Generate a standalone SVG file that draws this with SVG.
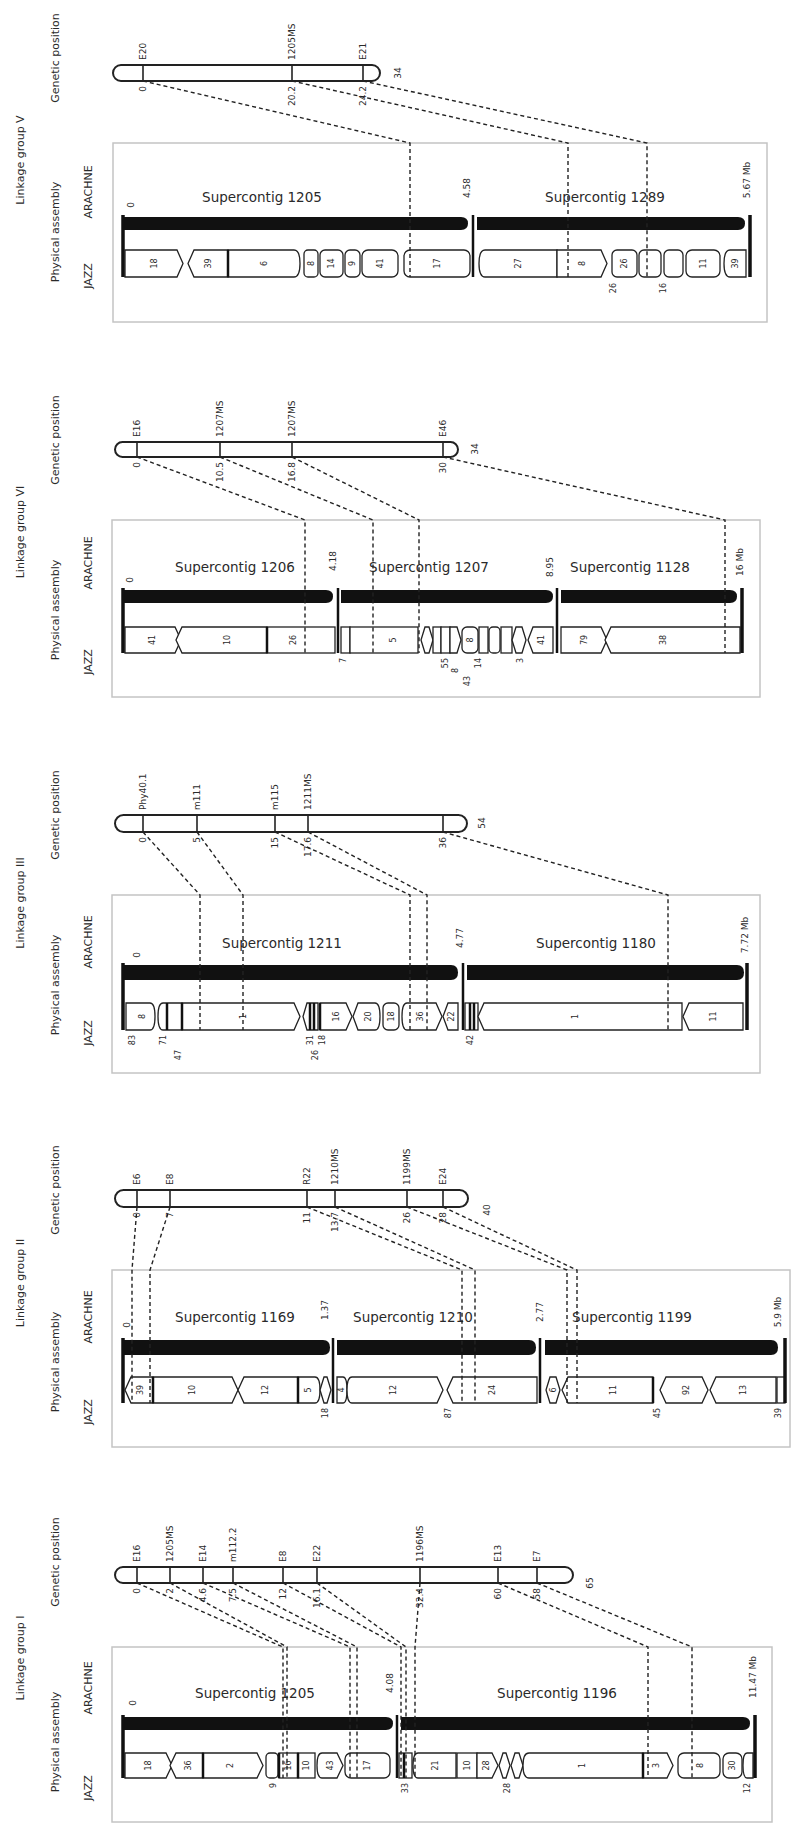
<svg xmlns="http://www.w3.org/2000/svg" width="795" height="1832" viewBox="0 0 795 1832">
<style>
text{font-family:'DejaVu Sans',Verdana,sans-serif;fill:#2a2a2a}
.sd{font-size:11px;text-anchor:middle;dominant-baseline:central}
.sc{font-size:13.5px;text-anchor:middle}
.mk{font-size:9px;text-anchor:start;dominant-baseline:central}
.cm{font-size:9px;text-anchor:end;dominant-baseline:central}
.ps{font-size:9px;text-anchor:middle;dominant-baseline:central}
.sl{font-size:8px;text-anchor:middle;dominant-baseline:central}
.bl{font-size:8px;text-anchor:end;dominant-baseline:central}
.box{fill:none;stroke:#c4c4c4;stroke-width:1.5}
.chr{fill:#fff;stroke:#222;stroke-width:2}
.tk{stroke:#222;stroke-width:1.6}
.ab{fill:#111}
.bd{stroke:#111;stroke-width:2.5}
.be{stroke:#111;stroke-width:3.5}
.sg{fill:#fff;stroke:#222;stroke-width:1.3}
.cn{fill:none;stroke:#222;stroke-width:1.4;stroke-dasharray:4 3}
</style>
<rect width="795" height="1832" fill="#fff"/>

<!-- ================= PANEL V ================= -->
<g id="panel-V">
<text class="sd" transform="translate(20,160) rotate(-90)">Linkage group V</text>
<text class="sd" transform="translate(55,58) rotate(-90)">Genetic position</text>
<text class="sd" transform="translate(55,232) rotate(-90)">Physical assembly</text>
<text class="sd" transform="translate(88,192) rotate(-90)">ARACHNE</text>
<text class="sd" transform="translate(88,276) rotate(-90)">JAZZ</text>
<g id="chrV">
<rect class="chr" x="113" y="65" width="267" height="16" rx="8"/>
<line class="tk" x1="143" y1="65" x2="143" y2="81"/><line class="tk" x1="292" y1="65" x2="292" y2="81"/><line class="tk" x1="363" y1="65" x2="363" y2="81"/>
<text class="mk" transform="translate(143,60) rotate(-90)">E20</text>
<text class="mk" transform="translate(292,60) rotate(-90)">1205MS</text>
<text class="mk" transform="translate(363,60) rotate(-90)">E21</text>
<text class="cm" transform="translate(143,86) rotate(-90)">0</text>
<text class="cm" transform="translate(292,86) rotate(-90)">20.2</text>
<text class="cm" transform="translate(363,86) rotate(-90)">24.2</text>
<text class="ps" transform="translate(398,73) rotate(-90)">34</text>
</g>
<g id="asmV">
<rect class="box" x="113" y="143" width="654" height="179"/>
<text class="sc" x="262" y="202">Supercontig 1205</text>
<text class="sc" x="605" y="202">Supercontig 1289</text>
<text class="ps" transform="translate(131,205) rotate(-90)">0</text>
<text class="ps" transform="translate(467,188) rotate(-90)">4.58</text>
<text class="ps" transform="translate(747,180) rotate(-90)">5.67 Mb</text>
<path class="ab" d="M123 217H461Q468 217 468 223.5Q468 230 461 230H123Z"/>
<path class="ab" d="M477 217H738Q745 217 745 223.5Q745 230 738 230H477Z"/>
<path class="sg" d="M125 250H177L183 263.5L177 277H125Z"/>
<path class="sg" d="M194 250H228V277H194L188 263.5Z"/>
<path class="sg" d="M228 250H294Q300 250 300 263.5Q300 277 294 277H228Z"/>
<rect class="sg" x="304" y="250" width="14" height="27" rx="4"/>
<rect class="sg" x="320" y="250" width="23" height="27" rx="5"/>
<rect class="sg" x="345" y="250" width="15" height="27" rx="5"/>
<rect class="sg" x="362" y="250" width="36" height="27" rx="6"/>
<rect class="sg" x="404" y="250" width="66" height="27" rx="6"/>
<path class="sg" d="M485 250H557V277H485Q479 277 479 263.5Q479 250 485 250Z"/>
<path class="sg" d="M557 250H601L607 263.5L601 277H557Z"/>
<rect class="sg" x="612" y="250" width="25" height="27" rx="5"/>
<rect class="sg" x="639" y="250" width="22" height="27" rx="5"/>
<rect class="sg" x="664" y="250" width="19" height="27" rx="5"/>
<rect class="sg" x="686" y="250" width="34" height="27" rx="6"/>
<path class="sg" d="M730 250H746V277H730Q724 277 724 263.5Q724 250 730 250Z"/>
<line class="be" x1="123" y1="215" x2="123" y2="277"/>
<line class="bd" x1="473" y1="215" x2="473" y2="277"/>
<line class="be" x1="750" y1="215" x2="750" y2="277"/>
<line class="bd" x1="228" y1="250" x2="228" y2="277"/>
<text class="sl" transform="translate(154,263.5) rotate(-90)">18</text>
<text class="sl" transform="translate(208,263.5) rotate(-90)">39</text>
<text class="sl" transform="translate(264,263.5) rotate(-90)">6</text>
<text class="sl" transform="translate(311,263.5) rotate(-90)">8</text>
<text class="sl" transform="translate(331,263.5) rotate(-90)">14</text>
<text class="sl" transform="translate(352,263.5) rotate(-90)">9</text>
<text class="sl" transform="translate(380,263.5) rotate(-90)">41</text>
<text class="sl" transform="translate(437,263.5) rotate(-90)">17</text>
<text class="sl" transform="translate(518,263.5) rotate(-90)">27</text>
<text class="sl" transform="translate(582,263.5) rotate(-90)">8</text>
<text class="sl" transform="translate(624,263.5) rotate(-90)">26</text>
<text class="sl" transform="translate(703,263.5) rotate(-90)">11</text>
<text class="sl" transform="translate(735,263.5) rotate(-90)">39</text>
<text class="bl" transform="translate(613,283) rotate(-90)">26</text>
<text class="bl" transform="translate(663,283) rotate(-90)">16</text>
</g>
</g>

<!-- ================= PANEL VI ================= -->
<g id="panel-VI">
<text class="sd" transform="translate(20,532) rotate(-90)">Linkage group VI</text>
<text class="sd" transform="translate(55,440) rotate(-90)">Genetic position</text>
<text class="sd" transform="translate(55,610) rotate(-90)">Physical assembly</text>
<text class="sd" transform="translate(88,563) rotate(-90)">ARACHNE</text>
<text class="sd" transform="translate(88,662) rotate(-90)">JAZZ</text>
<g id="chrVI">
<rect class="chr" x="115" y="442" width="343" height="15" rx="7.5"/>
<line class="tk" x1="137" y1="442" x2="137" y2="457"/><line class="tk" x1="220" y1="442" x2="220" y2="457"/><line class="tk" x1="292" y1="442" x2="292" y2="457"/><line class="tk" x1="443" y1="442" x2="443" y2="457"/>
<text class="mk" transform="translate(137,437) rotate(-90)">E16</text>
<text class="mk" transform="translate(220,437) rotate(-90)">1207MS</text>
<text class="mk" transform="translate(292,437) rotate(-90)">1207MS</text>
<text class="mk" transform="translate(443,437) rotate(-90)">E46</text>
<text class="cm" transform="translate(137,462) rotate(-90)">0</text>
<text class="cm" transform="translate(220,462) rotate(-90)">10.5</text>
<text class="cm" transform="translate(292,462) rotate(-90)">16.8</text>
<text class="cm" transform="translate(443,462) rotate(-90)">30</text>
<text class="ps" transform="translate(475,449) rotate(-90)">34</text>
</g>
<g id="asmVI">
<rect class="box" x="112" y="520" width="648" height="177"/>
<text class="sc" x="235" y="572">Supercontig 1206</text>
<text class="sc" x="429" y="572">Supercontig 1207</text>
<text class="sc" x="630" y="572">Supercontig 1128</text>
<text class="ps" transform="translate(130,580) rotate(-90)">0</text>
<text class="ps" transform="translate(333,561) rotate(-90)">4.18</text>
<text class="ps" transform="translate(550,567) rotate(-90)">8.95</text>
<text class="ps" transform="translate(740,562) rotate(-90)">16 Mb</text>
<path class="ab" d="M123 590H326Q333 590 333 596.5Q333 603 326 603H123Z"/>
<path class="ab" d="M341 590H546Q553 590 553 596.5Q553 603 546 603H341Z"/>
<path class="ab" d="M561 590H730Q737 590 737 596.5Q737 603 730 603H561Z"/>
<path class="sg" d="M125 627H175L181 640L175 653H125Z"/>
<path class="sg" d="M182 627H267V653H182L176 640Z"/>
<rect class="sg" x="267" y="627" width="68" height="26"/>
<rect class="sg" x="341" y="627" width="9" height="26"/>
<rect class="sg" x="350" y="627" width="68" height="26"/>
<path class="sg" d="M425 627H429L433 640L429 653H425L421 640Z"/>
<rect class="sg" x="433" y="627" width="8" height="26"/>
<rect class="sg" x="441" y="627" width="9" height="26"/>
<path class="sg" d="M450 627H457L461 640L457 653H450Z"/>
<rect class="sg" x="462" y="627" width="16" height="26" rx="5"/>
<rect class="sg" x="479" y="627" width="9" height="26"/>
<rect class="sg" x="489" y="627" width="11" height="26" rx="4"/>
<rect class="sg" x="501" y="627" width="11" height="26"/>
<path class="sg" d="M516 627H522L526 640L522 653H516L512 640Z"/>
<path class="sg" d="M533 627H553V653H533L528 640Z"/>
<path class="sg" d="M561 627H601L607 640L601 653H561Z"/>
<path class="sg" d="M611 627H740V653H611L605 640Z"/>
<line class="be" x1="123" y1="588" x2="123" y2="653"/>
<line class="bd" x1="338" y1="588" x2="338" y2="653"/>
<line class="bd" x1="557" y1="588" x2="557" y2="653"/>
<line class="be" x1="742" y1="588" x2="742" y2="653"/>
<line class="bd" x1="267" y1="627" x2="267" y2="653"/>
<text class="sl" transform="translate(152,640) rotate(-90)">41</text>
<text class="sl" transform="translate(227,640) rotate(-90)">10</text>
<text class="sl" transform="translate(293,640) rotate(-90)">26</text>
<text class="sl" transform="translate(393,640) rotate(-90)">5</text>
<text class="sl" transform="translate(470,640) rotate(-90)">8</text>
<text class="sl" transform="translate(541,640) rotate(-90)">41</text>
<text class="sl" transform="translate(584,640) rotate(-90)">79</text>
<text class="sl" transform="translate(663,640) rotate(-90)">38</text>
<text class="bl" transform="translate(343,658) rotate(-90)">7</text>
<text class="bl" transform="translate(445,658) rotate(-90)">55</text>
<text class="bl" transform="translate(455,668) rotate(-90)">8</text>
<text class="bl" transform="translate(467,676) rotate(-90)">43</text>
<text class="bl" transform="translate(478,658) rotate(-90)">14</text>
<text class="bl" transform="translate(520,658) rotate(-90)">3</text>
</g>
</g>

<!-- ================= PANEL III ================= -->
<g id="panel-III">
<text class="sd" transform="translate(20,903) rotate(-90)">Linkage group III</text>
<text class="sd" transform="translate(55,815) rotate(-90)">Genetic position</text>
<text class="sd" transform="translate(55,985) rotate(-90)">Physical assembly</text>
<text class="sd" transform="translate(88,942) rotate(-90)">ARACHNE</text>
<text class="sd" transform="translate(88,1033) rotate(-90)">JAZZ</text>
<g id="chrIII">
<rect class="chr" x="115" y="815" width="352" height="17" rx="8.5"/>
<line class="tk" x1="143" y1="815" x2="143" y2="832"/><line class="tk" x1="197" y1="815" x2="197" y2="832"/><line class="tk" x1="275" y1="815" x2="275" y2="832"/><line class="tk" x1="308" y1="815" x2="308" y2="832"/><line class="tk" x1="443" y1="815" x2="443" y2="832"/>
<text class="mk" transform="translate(143,810) rotate(-90)">Phy40.1</text>
<text class="mk" transform="translate(197,810) rotate(-90)">m111</text>
<text class="mk" transform="translate(275,810) rotate(-90)">m115</text>
<text class="mk" transform="translate(308,810) rotate(-90)">1211MS</text>
<text class="cm" transform="translate(143,837) rotate(-90)">0</text>
<text class="cm" transform="translate(197,837) rotate(-90)">5</text>
<text class="cm" transform="translate(275,837) rotate(-90)">15</text>
<text class="cm" transform="translate(308,837) rotate(-90)">17.6</text>
<text class="cm" transform="translate(443,837) rotate(-90)">36</text>
<text class="ps" transform="translate(482,823) rotate(-90)">54</text>
</g>
<g id="asmIII">
<rect class="box" x="112" y="895" width="648" height="178"/>
<text class="sc" x="282" y="948">Supercontig 1211</text>
<text class="sc" x="596" y="948">Supercontig 1180</text>
<text class="ps" transform="translate(137,955) rotate(-90)">0</text>
<text class="ps" transform="translate(460,938) rotate(-90)">4.77</text>
<text class="ps" transform="translate(745,935) rotate(-90)">7.72 Mb</text>
<path class="ab" d="M123 965H451Q458 965 458 972.5Q458 980 451 980H123Z"/>
<path class="ab" d="M467 965H737Q744 965 744 972.5Q744 980 737 980H467Z"/>
<path class="sg" d="M126 1003H150Q155 1003 155 1016.5Q155 1030 150 1030H126Z"/>
<path class="sg" d="M163 1003H182V1030H163Q158 1030 158 1016.5Q158 1003 163 1003Z"/>
<path class="sg" d="M182 1003H294L300 1016.5L294 1030H182Z"/>
<path class="sg" d="M307 1003H318V1030H307L303 1016.5Z"/>
<path class="sg" d="M320 1003H346L352 1016.5L346 1030H320Z"/>
<path class="sg" d="M358 1003H375Q380 1003 380 1016.5Q380 1030 375 1030H358L353 1016.5Z"/>
<rect class="sg" x="383" y="1003" width="16" height="27" rx="5"/>
<path class="sg" d="M407 1003H436L442 1016.5L436 1030H407Q402 1030 402 1016.5Q402 1003 407 1003Z"/>
<path class="sg" d="M448 1003H458V1030H448L443 1016.5Z"/>
<rect class="sg" x="465" y="1003" width="13" height="27"/>
<path class="sg" d="M484 1003H682V1030H484L478 1016.5Z"/>
<path class="sg" d="M689 1003H743V1030H689L683 1016.5Z"/>
<line class="be" x1="123" y1="963" x2="123" y2="1030"/>
<line class="bd" x1="463" y1="963" x2="463" y2="1030"/>
<line class="be" x1="747" y1="963" x2="747" y2="1030"/>
<line class="bd" x1="167" y1="1003" x2="167" y2="1030"/>
<line class="bd" x1="182" y1="1003" x2="182" y2="1030"/>
<line class="bd" x1="310" y1="1003" x2="310" y2="1030"/>
<line class="bd" x1="314" y1="1003" x2="314" y2="1030"/>
<line class="bd" x1="320" y1="1003" x2="320" y2="1030"/>
<line class="bd" x1="470" y1="1003" x2="470" y2="1030"/>
<line class="bd" x1="474" y1="1003" x2="474" y2="1030"/>
<text class="sl" transform="translate(142,1016.5) rotate(-90)">8</text>
<text class="sl" transform="translate(243,1016.5) rotate(-90)">1</text>
<text class="sl" transform="translate(336,1016.5) rotate(-90)">16</text>
<text class="sl" transform="translate(368,1016.5) rotate(-90)">20</text>
<text class="sl" transform="translate(391,1016.5) rotate(-90)">18</text>
<text class="sl" transform="translate(420,1016.5) rotate(-90)">36</text>
<text class="sl" transform="translate(451,1016.5) rotate(-90)">22</text>
<text class="sl" transform="translate(575,1016.5) rotate(-90)">1</text>
<text class="sl" transform="translate(713,1016.5) rotate(-90)">11</text>
<text class="bl" transform="translate(132,1035) rotate(-90)">83</text>
<text class="bl" transform="translate(163,1035) rotate(-90)">71</text>
<text class="bl" transform="translate(178,1050) rotate(-90)">47</text>
<text class="bl" transform="translate(310,1035) rotate(-90)">31</text>
<text class="bl" transform="translate(322,1035) rotate(-90)">18</text>
<text class="bl" transform="translate(315,1050) rotate(-90)">26</text>
<text class="bl" transform="translate(470,1035) rotate(-90)">42</text>
</g>
</g>

<!-- ================= PANEL II ================= -->
<g id="panel-II">
<text class="sd" transform="translate(20,1283) rotate(-90)">Linkage group II</text>
<text class="sd" transform="translate(55,1190) rotate(-90)">Genetic position</text>
<text class="sd" transform="translate(55,1362) rotate(-90)">Physical assembly</text>
<text class="sd" transform="translate(88,1317) rotate(-90)">ARACHNE</text>
<text class="sd" transform="translate(88,1412) rotate(-90)">JAZZ</text>
<g id="chrII">
<rect class="chr" x="115" y="1190" width="353" height="17" rx="8.5"/>
<line class="tk" x1="137" y1="1190" x2="137" y2="1207"/><line class="tk" x1="170" y1="1190" x2="170" y2="1207"/><line class="tk" x1="307" y1="1190" x2="307" y2="1207"/><line class="tk" x1="335" y1="1190" x2="335" y2="1207"/><line class="tk" x1="407" y1="1190" x2="407" y2="1207"/><line class="tk" x1="443" y1="1190" x2="443" y2="1207"/>
<text class="mk" transform="translate(137,1185) rotate(-90)">E6</text>
<text class="mk" transform="translate(170,1185) rotate(-90)">E8</text>
<text class="mk" transform="translate(307,1185) rotate(-90)">R22</text>
<text class="mk" transform="translate(335,1185) rotate(-90)">1210MS</text>
<text class="mk" transform="translate(407,1185) rotate(-90)">1199MS</text>
<text class="mk" transform="translate(443,1185) rotate(-90)">E24</text>
<text class="cm" transform="translate(137,1212) rotate(-90)">0</text>
<text class="cm" transform="translate(170,1212) rotate(-90)">7</text>
<text class="cm" transform="translate(307,1212) rotate(-90)">11</text>
<text class="cm" transform="translate(335,1212) rotate(-90)">13.7</text>
<text class="cm" transform="translate(407,1212) rotate(-90)">26</text>
<text class="cm" transform="translate(443,1212) rotate(-90)">28</text>
<text class="ps" transform="translate(487,1210) rotate(-90)">40</text>
</g>
<g id="asmII">
<rect class="box" x="112" y="1270" width="678" height="177"/>
<text class="sc" x="235" y="1322">Supercontig 1169</text>
<text class="sc" x="413" y="1322">Supercontig 1210</text>
<text class="sc" x="632" y="1322">Supercontig 1199</text>
<text class="ps" transform="translate(127,1325) rotate(-90)">0</text>
<text class="ps" transform="translate(325,1310) rotate(-90)">1.37</text>
<text class="ps" transform="translate(540,1312) rotate(-90)">2.77</text>
<text class="ps" transform="translate(778,1312) rotate(-90)">5.9 Mb</text>
<path class="ab" d="M123 1340H323Q330 1340 330 1347.5Q330 1355 323 1355H123Z"/>
<path class="ab" d="M337 1340H529Q536 1340 536 1347.5Q536 1355 529 1355H337Z"/>
<path class="ab" d="M545 1340H771Q778 1340 778 1347.5Q778 1355 771 1355H545Z"/>
<path class="sg" d="M131 1377H153V1403H131L125 1390Z"/>
<path class="sg" d="M153 1377H232L238 1390L232 1403H153Z"/>
<path class="sg" d="M244 1377H298V1403H244L238 1390Z"/>
<path class="sg" d="M298 1377H315Q320 1377 320 1390Q320 1403 315 1403H298Z"/>
<path class="sg" d="M324 1377H327L331 1390L327 1403H324L320 1390Z"/>
<path class="sg" d="M337 1377H343Q347 1377 347 1390Q347 1403 343 1403H337Z"/>
<path class="sg" d="M352 1377H437L443 1390L437 1403H352Q347 1403 347 1390Q347 1377 352 1377Z"/>
<path class="sg" d="M453 1377H537V1403H453L447 1390Z"/>
<path class="sg" d="M550 1377H556L560 1390L556 1403H550L546 1390Z"/>
<path class="sg" d="M568 1377H653V1403H568L562 1390Z"/>
<path class="sg" d="M666 1377H702L708 1390L702 1403H666L660 1390Z"/>
<path class="sg" d="M716 1377H776V1403H716L710 1390Z"/>
<rect class="sg" x="777" y="1377" width="8" height="26"/>
<line class="be" x1="123" y1="1338" x2="123" y2="1403"/>
<line class="bd" x1="333" y1="1338" x2="333" y2="1403"/>
<line class="bd" x1="540" y1="1338" x2="540" y2="1403"/>
<line class="be" x1="785" y1="1338" x2="785" y2="1403"/>
<line class="bd" x1="153" y1="1377" x2="153" y2="1403"/>
<line class="bd" x1="298" y1="1377" x2="298" y2="1403"/>
<line class="bd" x1="653" y1="1377" x2="653" y2="1403"/>
<text class="sl" transform="translate(140,1390) rotate(-90)">39</text>
<text class="sl" transform="translate(192,1390) rotate(-90)">10</text>
<text class="sl" transform="translate(265,1390) rotate(-90)">12</text>
<text class="sl" transform="translate(308,1390) rotate(-90)">5</text>
<text class="sl" transform="translate(341,1390) rotate(-90)">4</text>
<text class="sl" transform="translate(393,1390) rotate(-90)">12</text>
<text class="sl" transform="translate(492,1390) rotate(-90)">24</text>
<text class="sl" transform="translate(553,1390) rotate(-90)">6</text>
<text class="sl" transform="translate(613,1390) rotate(-90)">11</text>
<text class="sl" transform="translate(686,1390) rotate(-90)">92</text>
<text class="sl" transform="translate(743,1390) rotate(-90)">13</text>
<text class="bl" transform="translate(325,1408) rotate(-90)">18</text>
<text class="bl" transform="translate(448,1408) rotate(-90)">87</text>
<text class="bl" transform="translate(657,1408) rotate(-90)">45</text>
<text class="bl" transform="translate(778,1408) rotate(-90)">39</text>
</g>
</g>

<!-- ================= PANEL I ================= -->
<g id="panel-I">
<text class="sd" transform="translate(20,1658) rotate(-90)">Linkage group I</text>
<text class="sd" transform="translate(55,1562) rotate(-90)">Genetic position</text>
<text class="sd" transform="translate(55,1742) rotate(-90)">Physical assembly</text>
<text class="sd" transform="translate(88,1688) rotate(-90)">ARACHNE</text>
<text class="sd" transform="translate(88,1788) rotate(-90)">JAZZ</text>
<g id="chrI">
<rect class="chr" x="115" y="1567" width="458" height="16" rx="8"/>
<line class="tk" x1="137" y1="1567" x2="137" y2="1583"/><line class="tk" x1="170" y1="1567" x2="170" y2="1583"/><line class="tk" x1="203" y1="1567" x2="203" y2="1583"/><line class="tk" x1="233" y1="1567" x2="233" y2="1583"/><line class="tk" x1="283" y1="1567" x2="283" y2="1583"/><line class="tk" x1="317" y1="1567" x2="317" y2="1583"/><line class="tk" x1="420" y1="1567" x2="420" y2="1583"/><line class="tk" x1="498" y1="1567" x2="498" y2="1583"/><line class="tk" x1="537" y1="1567" x2="537" y2="1583"/>
<text class="mk" transform="translate(137,1562) rotate(-90)">E16</text>
<text class="mk" transform="translate(170,1562) rotate(-90)">1205MS</text>
<text class="mk" transform="translate(203,1562) rotate(-90)">E14</text>
<text class="mk" transform="translate(233,1562) rotate(-90)">m112.2</text>
<text class="mk" transform="translate(283,1562) rotate(-90)">E8</text>
<text class="mk" transform="translate(317,1562) rotate(-90)">E22</text>
<text class="mk" transform="translate(420,1562) rotate(-90)">1196MS</text>
<text class="mk" transform="translate(498,1562) rotate(-90)">E13</text>
<text class="mk" transform="translate(537,1562) rotate(-90)">E7</text>
<text class="cm" transform="translate(137,1588) rotate(-90)">0</text>
<text class="cm" transform="translate(170,1588) rotate(-90)">2</text>
<text class="cm" transform="translate(203,1588) rotate(-90)">4.6</text>
<text class="cm" transform="translate(233,1588) rotate(-90)">7.5</text>
<text class="cm" transform="translate(283,1588) rotate(-90)">12</text>
<text class="cm" transform="translate(317,1588) rotate(-90)">16.1</text>
<text class="cm" transform="translate(420,1588) rotate(-90)">32.4</text>
<text class="cm" transform="translate(498,1588) rotate(-90)">60</text>
<text class="cm" transform="translate(537,1588) rotate(-90)">58</text>
<text class="ps" transform="translate(590,1583) rotate(-90)">65</text>
</g>
<g id="asmI">
<rect class="box" x="112" y="1647" width="660" height="175"/>
<text class="sc" x="255" y="1698">Supercontig 1205</text>
<text class="sc" x="557" y="1698">Supercontig 1196</text>
<text class="ps" transform="translate(133,1703) rotate(-90)">0</text>
<text class="ps" transform="translate(390,1683) rotate(-90)">4.08</text>
<text class="ps" transform="translate(753,1677) rotate(-90)">11.47 Mb</text>
<path class="ab" d="M123 1717H386Q393 1717 393 1723.5Q393 1730 386 1730H123Z"/>
<path class="ab" d="M401 1717H743Q750 1717 750 1723.5Q750 1730 743 1730H401Z"/>
<path class="sg" d="M125 1753H166L172 1765.5L166 1778H125Z"/>
<path class="sg" d="M176 1753H203V1778H176L170 1765.5Z"/>
<path class="sg" d="M203 1753H257L263 1765.5L257 1778H203Z"/>
<rect class="sg" x="266" y="1753" width="12" height="25" rx="4"/>
<rect class="sg" x="279" y="1753" width="19" height="25"/>
<rect class="sg" x="298" y="1753" width="17" height="25"/>
<path class="sg" d="M322 1753H337L343 1765.5L337 1778H322Q317 1778 317 1765.5Q317 1753 322 1753Z"/>
<rect class="sg" x="345" y="1753" width="45" height="25" rx="6"/>
<rect class="sg" x="399" y="1753" width="13" height="25"/>
<path class="sg" d="M418 1753H456V1778H418Q413 1778 413 1765.5Q413 1753 418 1753Z"/>
<rect class="sg" x="457" y="1753" width="20" height="25"/>
<path class="sg" d="M477 1753H492L498 1765.5L492 1778H477Z"/>
<path class="sg" d="M503 1753H506L510 1765.5L506 1778H503L499 1765.5Z"/>
<path class="sg" d="M515 1753H519L523 1765.5L519 1778H515L511 1765.5Z"/>
<path class="sg" d="M529 1753H643V1778H529Q523 1778 523 1765.5Q523 1753 529 1753Z"/>
<path class="sg" d="M643 1753H667L673 1765.5L667 1778H643Z"/>
<rect class="sg" x="678" y="1753" width="42" height="25" rx="6"/>
<rect class="sg" x="723" y="1753" width="19" height="25" rx="6"/>
<path class="sg" d="M747 1753H753V1778H747Q743 1778 743 1765.5Q743 1753 747 1753Z"/>
<line class="be" x1="123" y1="1715" x2="123" y2="1778"/>
<line class="bd" x1="397" y1="1715" x2="397" y2="1778"/>
<line class="be" x1="755" y1="1715" x2="755" y2="1778"/>
<line class="bd" x1="203" y1="1753" x2="203" y2="1778"/>
<line class="bd" x1="279" y1="1753" x2="279" y2="1778"/>
<line class="bd" x1="298" y1="1753" x2="298" y2="1778"/>
<line class="bd" x1="643" y1="1753" x2="643" y2="1778"/>
<line class="bd" x1="404" y1="1753" x2="404" y2="1778"/>
<text class="sl" transform="translate(148,1765.5) rotate(-90)">18</text>
<text class="sl" transform="translate(188,1765.5) rotate(-90)">36</text>
<text class="sl" transform="translate(230,1765.5) rotate(-90)">2</text>
<text class="sl" transform="translate(288,1765.5) rotate(-90)">16</text>
<text class="sl" transform="translate(306,1765.5) rotate(-90)">10</text>
<text class="sl" transform="translate(330,1765.5) rotate(-90)">43</text>
<text class="sl" transform="translate(367,1765.5) rotate(-90)">17</text>
<text class="sl" transform="translate(435,1765.5) rotate(-90)">21</text>
<text class="sl" transform="translate(467,1765.5) rotate(-90)">10</text>
<text class="sl" transform="translate(486,1765.5) rotate(-90)">28</text>
<text class="sl" transform="translate(582,1765.5) rotate(-90)">1</text>
<text class="sl" transform="translate(656,1765.5) rotate(-90)">3</text>
<text class="sl" transform="translate(700,1765.5) rotate(-90)">8</text>
<text class="sl" transform="translate(732,1765.5) rotate(-90)">30</text>
<text class="bl" transform="translate(273,1783) rotate(-90)">9</text>
<text class="bl" transform="translate(405,1783) rotate(-90)">33</text>
<text class="bl" transform="translate(507,1783) rotate(-90)">28</text>
<text class="bl" transform="translate(747,1783) rotate(-90)">12</text>
</g>
</g>

<!-- ================= CONNECTORS ================= -->
<g id="connectors">
<path class="cn" d="M143 81L410 143V277"/>
<path class="cn" d="M292 81L568 143V277"/>
<path class="cn" d="M363 81L647 143V277"/>
<path class="cn" d="M137 457L305 520V653"/>
<path class="cn" d="M220 457L373 520V653"/>
<path class="cn" d="M292 457L419 520V653"/>
<path class="cn" d="M443 457L725 520V653"/>
<path class="cn" d="M143 832L200 895V1030"/>
<path class="cn" d="M197 832L243 895V1030"/>
<path class="cn" d="M275 832L410 895V1030"/>
<path class="cn" d="M308 832L427 895V1030"/>
<path class="cn" d="M443 832L668 895V1030"/>
<path class="cn" d="M137 1207L132 1270V1403"/>
<path class="cn" d="M170 1207L150 1270V1403"/>
<path class="cn" d="M307 1207L462 1270V1403"/>
<path class="cn" d="M335 1207L475 1270V1403"/>
<path class="cn" d="M407 1207L567 1270V1403"/>
<path class="cn" d="M443 1207L577 1270V1403"/>
<path class="cn" d="M137 1583L283 1647V1778"/>
<path class="cn" d="M170 1583L287 1647V1778"/>
<path class="cn" d="M203 1583L350 1647V1778"/>
<path class="cn" d="M233 1583L357 1647V1778"/>
<path class="cn" d="M283 1583L401 1647V1778"/>
<path class="cn" d="M317 1583L406 1647V1778"/>
<path class="cn" d="M420 1583L415 1647V1778"/>
<path class="cn" d="M498 1583L648 1647V1778"/>
<path class="cn" d="M537 1583L692 1647V1778"/>
</g>
</svg>
